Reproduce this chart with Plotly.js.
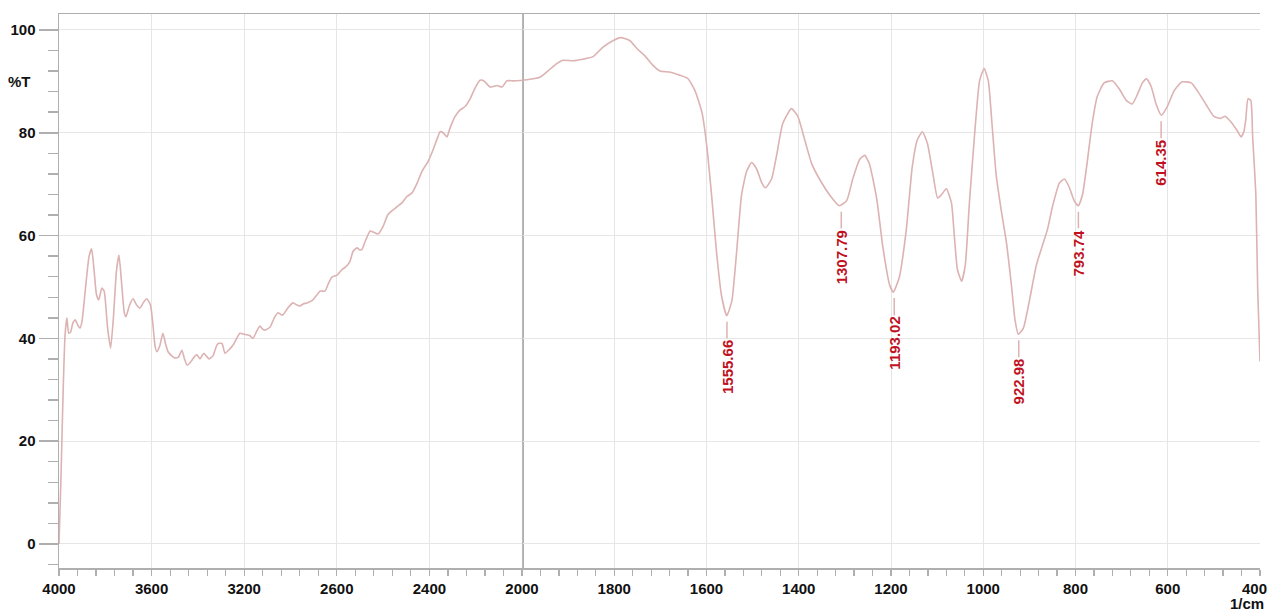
<!DOCTYPE html>
<html>
<head>
<meta charset="utf-8">
<script src="https://cdn.plot.ly/plotly-3.0.1.min.js"></script>
<style>html,body{margin:0;padding:0;background:#fff;}#chart{width:1271px;height:613px;}</style>
</head>
<body>
<div id="chart"></div>
<script>
// Wavenumber (1/cm) and transmittance (%T)
var wavenumber = [4000,3992,3982,3974,3966,3958,3950,3940,3930,3918,3909,3900,3885,3870,3859,3848,3838,3828,3815,3805,3790,3777,3765,3752,3741,3730,3718,3711,3695,3680,3665,3650,3635,3621,3605,3595,3585,3577,3565,3551,3540,3529,3510,3499,3485,3469,3458,3447,3435,3425,3412,3404,3391,3380,3374,3362,3352,3335,3320,3313,3296,3283,3261,3248,3230,3218,3200,3188,3175,3162,3145,3132,3120,3110,3088,3070,3054,3040,3032,3010,2989,2972,2959,2945,2929,2903,2885,2872,2851,2835,2821,2799,2777,2764,2743,2730,2713,2700,2691,2678,2656,2643,2622,2600,2579,2548,2518,2497,2475,2453,2432,2406,2384,2365,2354,2341,2324,2311,2289,2268,2246,2224,2203,2181,2170,2160,2138,2108,2086,2065,2039,2000,1976,1961,1944,1924,1911,1889,1868,1846,1825,1803,1786,1766,1750,1734,1716,1701,1680,1658,1640,1625,1610,1600,1589,1578,1567,1556,1545,1535,1524,1513,1502,1491,1480,1472,1459,1448,1435,1416,1402,1387,1372,1355,1333,1312,1296,1283,1268,1257,1247,1231,1218,1203,1195,1182,1167,1154,1143,1132,1121,1110,1099,1091,1080,1069,1063,1056,1047,1039,1030,1019,1008,998,989,981,972,961,950,939,931,924,913,900,885,872,861,850,835,824,814,803,794,785,775,764,753,738,720,705,690,677,666,655,646,636,625,614,601,586,569,549,536,517,500,485,476,463,450,441,435,431,426,420,416,409,405,400];
var transmittance = [0,12,30,40.5,44,41,41.2,43,43.6,42.5,42,43.5,50,56,57.4,53,48.5,47.5,49.8,49.2,42,38.1,44,53,56.2,51,45,44.2,46.5,47.7,46.5,45.9,47,47.7,46.5,43,38.5,37.4,38.5,41,39,37.4,36.5,36.2,36.3,37.7,36,34.8,35.2,35.8,36.6,36.8,36,36.8,37.1,36.5,36,36.6,38.5,39,39,37.1,38,38.7,40.2,41,40.8,40.7,40.5,40,41.5,42.4,41.8,41.6,42.2,44,45,44.6,44.6,46,46.9,46.5,46.3,46.7,46.9,47.5,48.5,49.2,49.2,50.8,51.9,52.3,53.4,53.8,55,56.9,57.6,57.2,57.3,58.8,60.9,60.7,60.3,61.8,64.1,65.3,66.4,67.6,68.3,70.2,72.5,74.4,76.7,79,80.2,80,79.2,80.9,83.2,84.4,85.1,86.6,88.7,90.2,90.2,89.9,88.9,89.2,88.9,90.1,90.1,90.2,90.5,90.8,92,93.5,94.1,94,94.3,94.8,96.6,97.9,98.5,97.9,96.3,95,93.1,92,91.8,91.2,90.5,88.2,84,77.9,67.9,56.5,48.1,44.4,47.3,56.5,67.9,72.5,74.2,72.9,70.2,69.3,71,75.6,81.7,84.7,83.2,78.6,74,71,67.9,65.8,66.8,71,74.8,75.6,74,67.2,58,50.4,49,51.9,61,73.3,78.6,80.2,77.9,72.5,67.3,67.9,69.1,66.4,60.3,53.4,51.1,54.2,66.4,79.4,90.1,92.5,90.1,81.7,71.8,64.9,58.8,50.4,43.5,40.8,42,47.3,54.2,58,61.1,65.6,70.2,71,69.5,66.8,65.8,67.9,74,81.7,87,89.7,90.1,88.5,86.3,85.6,87.4,89.7,90.5,89,85.5,83.4,85.1,88.2,89.9,89.7,88.2,85.5,83.2,82.8,83.2,82.1,80.5,79.2,80.2,82.4,86.6,86.3,79.4,67.9,49.6,35.5];

// Labelled peaks
var peakWavenumber = [1555.66, 1307.79, 1193.02, 922.98, 793.74, 614.35];
var peakT = [44.4, 65.8, 49.0, 40.8, 65.8, 83.4];
var peakLabels = ['1555.66', '1307.79', '1193.02', '922.98', '793.74', '614.35'];

// Axis ticks
var leftTickVals = [4000, 3600, 3200, 2800, 2400];
var leftTickText = ['4000', '3600', '3200', '2600', '2400'];
var rightTickVals = [2000, 1800, 1600, 1400, 1200, 1000, 800, 600, 400];
var rightTickText = ['2000', '1800', '1600', '1400', '1200', '1000', '800', '600', ''];
var endTickLabel = '400';
var unitLabel = '1/cm';
var yTickVals = [0, 20, 40, 60, 80, 100];

var lineColor = 'rgb(221,178,178)';
var frameColor = 'rgb(175,175,175)';
var gridColor = 'rgb(230,230,230)';
var tickFont = {family: 'Liberation Sans, Arial, sans-serif', size: 15, color: '#111', weight: 'bold'};

var traces = [
  {x: wavenumber, y: transmittance, xaxis: 'x', yaxis: 'y', type: 'scatter', mode: 'lines',
   line: {color: lineColor, width: 1.6, shape: 'spline', smoothing: 0.5}, hoverinfo: 'x+y'},
  {x: wavenumber, y: transmittance, xaxis: 'x2', yaxis: 'y', type: 'scatter', mode: 'lines',
   line: {color: lineColor, width: 1.6, shape: 'spline', smoothing: 0.5}, hoverinfo: 'x+y'}
];

var split = 463 / 1201;

var commonX = {
  showline: true, linecolor: frameColor, linewidth: 1.5, mirror: true,
  ticks: 'outside', ticklen: 6, tickcolor: frameColor, tickwidth: 1.2,
  showgrid: true, gridcolor: gridColor, gridwidth: 1,
  zeroline: false, tickfont: tickFont, tickmode: 'array', anchor: 'y'
};

var layout = {
  width: 1271, height: 613,
  margin: {l: 59, r: 11, t: 14, b: 45},
  paper_bgcolor: '#fff', plot_bgcolor: '#fff',
  showlegend: false,
  xaxis: Object.assign({}, commonX, {
    domain: [0, split], range: [4000, 2000],
    tickvals: leftTickVals, ticktext: leftTickText,
    minor: {tickmode: 'linear', tick0: 0, dtick: 80, ticks: 'outside', ticklen: 6, tickcolor: frameColor, showgrid: false}
  }),
  xaxis2: Object.assign({}, commonX, {
    domain: [split, 1], range: [2000, 400],
    tickvals: rightTickVals, ticktext: rightTickText,
    minor: {tickmode: 'linear', tick0: 0, dtick: 40, ticks: 'outside', ticklen: 6, tickcolor: frameColor, showgrid: false}
  }),
  yaxis: {
    range: [-4.67, 103.1],
    showline: true, linecolor: frameColor, linewidth: 1.5, mirror: true,
    ticks: 'outside', ticklen: 19, tickcolor: frameColor, tickwidth: 1.5,
    tickmode: 'array', tickvals: yTickVals,
    showgrid: true, gridcolor: gridColor, zeroline: false,
    tickfont: tickFont,
    minor: {tickmode: 'linear', tick0: 0, dtick: 4, ticks: 'outside', ticklen: 10, tickcolor: frameColor, showgrid: false}
  },
  shapes: [
    {type: 'line', xref: 'x2', yref: 'paper', x0: 2000, x1: 2000, y0: 0, y1: 1,
     line: {color: 'rgb(185,185,185)', width: 2}}
  ],
  annotations: []
};

for (var i = 0; i < peakWavenumber.length; i++) {
  var len = peakLabels[i].length;
  layout.annotations.push({
    x: peakWavenumber[i], y: peakT[i], xref: 'x2', yref: 'y',
    text: peakLabels[i], textangle: -90,
    font: {family: 'Liberation Sans, Arial, sans-serif', size: 15, color: '#c0121e', weight: 'bold'},
    showarrow: true, arrowhead: 0, arrowwidth: 1.5, arrowcolor: lineColor,
    ax: 0, ay: 24 + len * 3.9, standoff: 6
  });
}

layout.annotations.push({
  xref: 'paper', yref: 'paper', x: (33 - 59) / 1201, y: (568 - 81) / 554,
  xanchor: 'right', yanchor: 'middle', showarrow: false, text: '%T', font: tickFont
});
layout.annotations.push({
  xref: 'paper', yref: 'paper', x: (1269 - 59) / 1201, y: (568 - 588) / 554,
  xanchor: 'right', yanchor: 'middle', showarrow: false, text: endTickLabel, font: tickFont
});
layout.annotations.push({
  xref: 'paper', yref: 'paper', x: (1266 - 59) / 1201, y: (568 - 603) / 554,
  xanchor: 'right', yanchor: 'middle', showarrow: false, text: unitLabel, font: tickFont
});

Plotly.newPlot('chart', traces, layout, {displayModeBar: false, staticPlot: true});
</script>
</body>
</html>
